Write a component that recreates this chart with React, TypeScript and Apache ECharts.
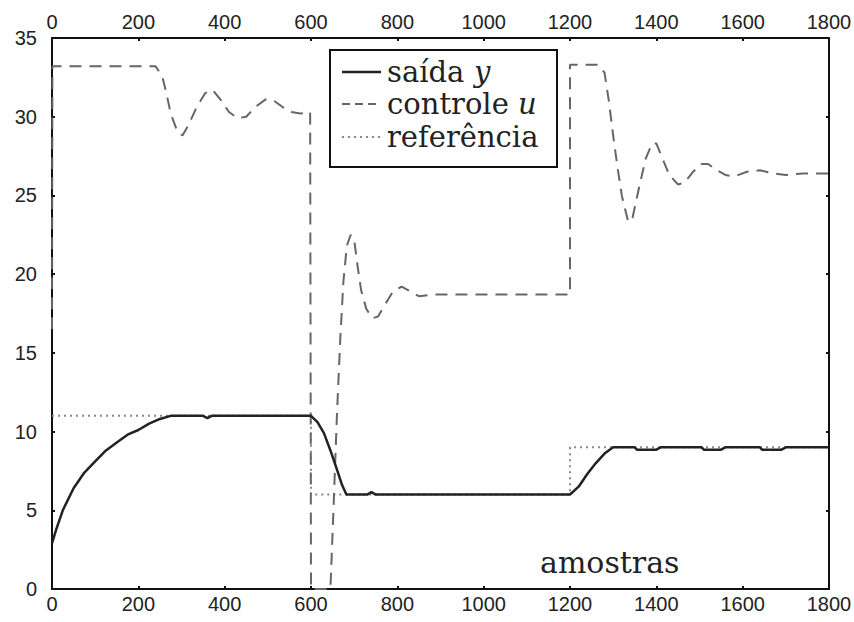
import React, { useEffect, useRef } from "react";
import * as echarts from "echarts";

// controle u  [amostra, valor]
const controlU: number[][] = [
  [0, 16.5], [1, 33.2], [240, 33.2], [255, 32.6], [265, 31.5], [275, 30.2], [290, 29.1], [302, 28.8],
  [315, 29.4], [335, 30.6], [355, 31.5], [372, 31.7], [390, 31.1], [410, 30.3], [430, 29.9], [450, 30.0],
  [470, 30.6], [495, 31.1], [515, 31.0], [535, 30.6], [555, 30.3], [575, 30.2], [598, 30.3], [600, 0],
  [645, 0], [652, 5], [660, 11], [668, 16], [675, 19.5], [683, 21.8], [692, 22.5], [700, 22.2],
  [708, 20.5], [716, 19], [728, 17.8], [742, 17.2], [755, 17.3], [770, 18.0], [790, 18.9], [810, 19.2],
  [830, 18.9], [850, 18.6], [880, 18.7], [1200, 18.7], [1200, 33.3], [1265, 33.3], [1280, 32.8],
  [1290, 31], [1300, 28.8], [1310, 26.8], [1320, 25], [1335, 23.3], [1345, 23.6], [1360, 25.5],
  [1375, 27.3], [1390, 28.3], [1400, 28.3], [1415, 27.3], [1430, 26.3], [1450, 25.7], [1465, 25.8],
  [1485, 26.5], [1505, 27.0], [1520, 27.0], [1540, 26.6], [1560, 26.3], [1580, 26.2], [1610, 26.5],
  [1640, 26.6], [1670, 26.4], [1700, 26.3], [1740, 26.4], [1800, 26.4],
];

// saída y
const outputY: number[][] = [
  [0, 2.9], [10, 3.8], [25, 5.0], [50, 6.4], [75, 7.4], [100, 8.1], [125, 8.8], [150, 9.3], [175, 9.8],
  [200, 10.1], [225, 10.5], [250, 10.8], [275, 11.0], [350, 11.0], [360, 10.85], [370, 11.0], [600, 11.0],
  [615, 10.6], [630, 9.9], [645, 8.8], [660, 7.6], [672, 6.6], [682, 6.0], [730, 6.0], [740, 6.15],
  [750, 6.0], [1200, 6.0], [1220, 6.5], [1240, 7.3], [1260, 8.0], [1280, 8.6], [1300, 9.0], [1350, 9.0],
  [1355, 8.85], [1400, 8.85], [1410, 9.0], [1505, 9.0], [1510, 8.85], [1550, 8.85], [1560, 9.0],
  [1640, 9.0], [1645, 8.85], [1690, 8.85], [1700, 9.0], [1800, 9.0],
];

// referência
const reference: number[][] = [
  [0, 11], [600, 11], [600, 6], [1200, 6], [1200, 9], [1800, 9],
];

const legendNames = ["saída", "controle", "referência"];
const legendVars = ["y", "u", ""];
const xLabel = "amostras";

const serif = "DejaVu Serif";
const sans = "Liberation Sans";

export default function App() {
  const ref = useRef<HTMLDivElement>(null);
  useEffect(() => {
    if (!ref.current) return;
    const chart = echarts.init(ref.current, null, { renderer: "svg" });
    const axisCommon = {
      axisLine: { show: true, onZero: false, lineStyle: { color: "#111", width: 2 } },
      axisTick: { show: true, inside: true, length: 3, lineStyle: { color: "#111", width: 2 } },
      splitLine: { show: false },
    };
    const tickLabel = {
      fontFamily: sans, fontSize: 20, color: "#222",
      formatter: (v: number) => String(v),
    };
    const legendY = [72, 104, 137];
    const varX = [474, 518, 0];
    const legendStyles: any[] = [
      { stroke: "#222", lineWidth: 2.5 },
      { stroke: "#666", lineWidth: 2, lineDash: [8, 5] },
      { stroke: "#888", lineWidth: 2, lineDash: [2, 4] },
    ];
    const graphic: any[] = [
      {
        type: "rect",
        shape: { x: 330, y: 50, width: 227, height: 117 },
        style: { fill: "#fff", stroke: "#111", lineWidth: 2 },
        z: 100,
      },
    ];
    legendNames.forEach((n, i) => {
      graphic.push({
        type: "line",
        shape: { x1: 342, y1: legendY[i], x2: 381, y2: legendY[i] },
        style: legendStyles[i],
        z: 101,
      });
      graphic.push({
        type: "text",
        x: 387,
        y: legendY[i],
        z: 101,
        style: {
          text: n, fontFamily: serif, fontSize: 29, fill: "#222", verticalAlign: "middle",
        },
      });
      if (legendVars[i]) {
        graphic.push({
          type: "text",
          x: varX[i],
          y: legendY[i],
          z: 101,
          style: {
            text: legendVars[i], fontFamily: serif, fontSize: 29, fontStyle: "italic",
            fill: "#222", verticalAlign: "middle",
          },
        });
      }
    });
    graphic.push({
      type: "text",
      x: 540,
      y: 562,
      z: 101,
      style: { text: xLabel, fontFamily: serif, fontSize: 30, fill: "#222", verticalAlign: "middle" },
    });

    chart.setOption({
      animation: false,
      backgroundColor: "#fff",
      grid: { left: 52, top: 38, right: 25, bottom: 33, outerBoundsMode: "none", containLabel: false },
      xAxis: [
        {
          type: "value", min: 0, max: 1800, interval: 200, position: "bottom",
          ...axisCommon,
          axisLabel: { ...tickLabel, margin: 5 },
        },
        {
          type: "value", min: 0, max: 1800, interval: 200, position: "top",
          ...axisCommon,
          axisLabel: { ...tickLabel, margin: 6 },
        },
      ],
      yAxis: [
        {
          type: "value", min: 0, max: 35, interval: 5, position: "left",
          ...axisCommon,
          axisLabel: { ...tickLabel, margin: 15 },
        },
        {
          type: "value", min: 0, max: 35, interval: 5, position: "right",
          ...axisCommon,
          axisLabel: { show: false },
        },
      ],
      graphic,
      series: [
        {
          name: "referência", type: "line", data: reference, showSymbol: false, z: 2,
          lineStyle: { color: "#888", width: 2, type: [2, 4] },
        },
        {
          name: "controle u", type: "line", data: controlU, showSymbol: false, z: 3,
          lineStyle: { color: "#666", width: 2, type: [12, 8] },
        },
        {
          name: "saída y", type: "line", data: outputY, showSymbol: false, z: 4,
          lineStyle: { color: "#222", width: 2.5 },
        },
      ],
    });
    return () => chart.dispose();
  }, []);
  return (
    <div
      ref={ref}
      style={{ position: "fixed", left: 0, top: 0, width: 854, height: 622, background: "#fff" }}
    />
  );
}
